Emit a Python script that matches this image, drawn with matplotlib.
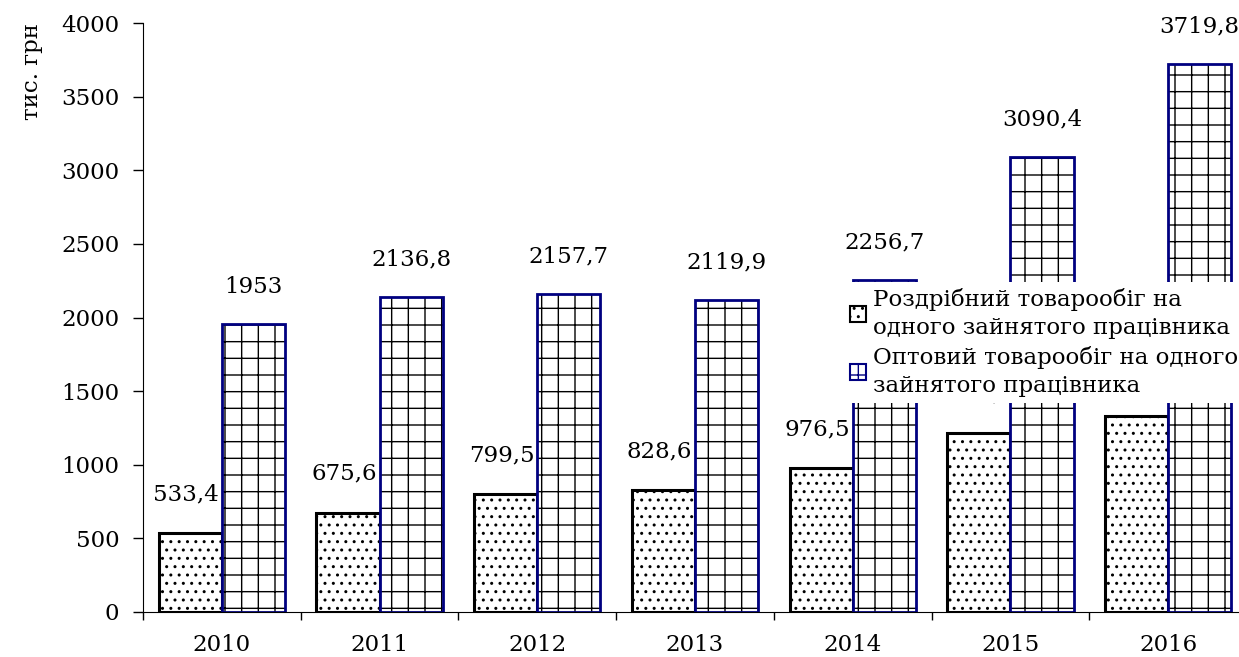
import numpy as np
import matplotlib.pyplot as plt
from matplotlib.patches import Patch

plt.rcParams['font.family'] = ['DejaVu Serif']
plt.rcParams['hatch.linewidth'] = 1.0

# Дані
years = ['2010', '2011', '2012', '2013', '2014', '2015', '2016']
retail = [533.4, 675.6, 799.5, 828.6, 976.5, 1213.6, 1333.3]
wholesale = [1953, 2136.8, 2157.7, 2119.9, 2256.7, 3090.4, 3719.8]
retail_name = 'Роздрібний товарообіг на\nодного зайнятого працівника'
wholesale_name = 'Оптовий товарообіг на одного\nзайнятого працівника'

fs = 16.5


def fmt(v):
    s = f"{v:.1f}".replace('.', ',')
    return s[:-2] if s.endswith(',0') else s


fig = plt.figure(figsize=(12.39, 6.57), dpi=100)
ax = fig.add_axes([143 / 1239, 45 / 657, 1104 / 1239, 589 / 657])

x = np.arange(len(years))
w = 0.40
navy = '#000080'

ax.bar(x - w / 2, retail, w, facecolor='white', edgecolor='black',
       hatch='..', linewidth=2.2)
ax.bar(x + w / 2, wholesale, w, facecolor='white', edgecolor='black',
       hatch='+', linewidth=0)
ax.bar(x + w / 2, wholesale, w, fill=False, edgecolor=navy, linewidth=2.0)

# підписи значень (два останні роздрібні ховаються під легендою, як в оригіналі)
for xi, v in zip(x, retail):
    ax.annotate(fmt(v), (xi - w / 2, v), xytext=(-3, 28), textcoords='offset points',
                ha='center', va='center', fontsize=fs, zorder=3)
for xi, v in zip(x, wholesale):
    ax.annotate(fmt(v), (xi + w / 2, v), xytext=(0, 27), textcoords='offset points',
                ha='center', va='center', fontsize=fs, zorder=3)

ax.set_xlim(-0.5, len(years) - 0.5)
ax.set_ylim(0, 4000)
ax.set_yticks(np.arange(0, 4001, 500))
ax.set_xticks(x)
ax.set_xticklabels(years)
ax.set_xticks(np.arange(-0.5, len(years)), minor=True)
ax.tick_params(axis='x', which='major', length=0, pad=16, labelsize=fs)
ax.tick_params(axis='x', which='minor', length=6, width=1)
ax.tick_params(axis='y', length=7, width=1, pad=10, labelsize=fs)
for s in ['top', 'right']:
    ax.spines[s].set_visible(False)

fig.text(32 / 1239, 1 - 71 / 657, 'тис. грн', rotation=90, ha='center',
         va='center', fontsize=fs)

handles = [Patch(facecolor='white', edgecolor='black', hatch='..', linewidth=1.5),
           Patch(facecolor='white', edgecolor=navy, hatch='+', linewidth=1.5)]
leg = ax.legend(handles, [retail_name, wholesale_name], loc='upper left',
                bbox_to_anchor=(833 / 1239, 1 - 271 / 657), bbox_transform=fig.transFigure,
                frameon=True, facecolor='white', edgecolor='none', framealpha=1,
                fancybox=False, borderpad=0.25, labelspacing=0.3, handlelength=0.7,
                handleheight=0.7, handletextpad=0.3, fontsize=fs)
for t in leg.get_texts():
    t.set_linespacing(1.35)
leg.set_zorder(5)

fig.savefig('out.png', dpi=100)
